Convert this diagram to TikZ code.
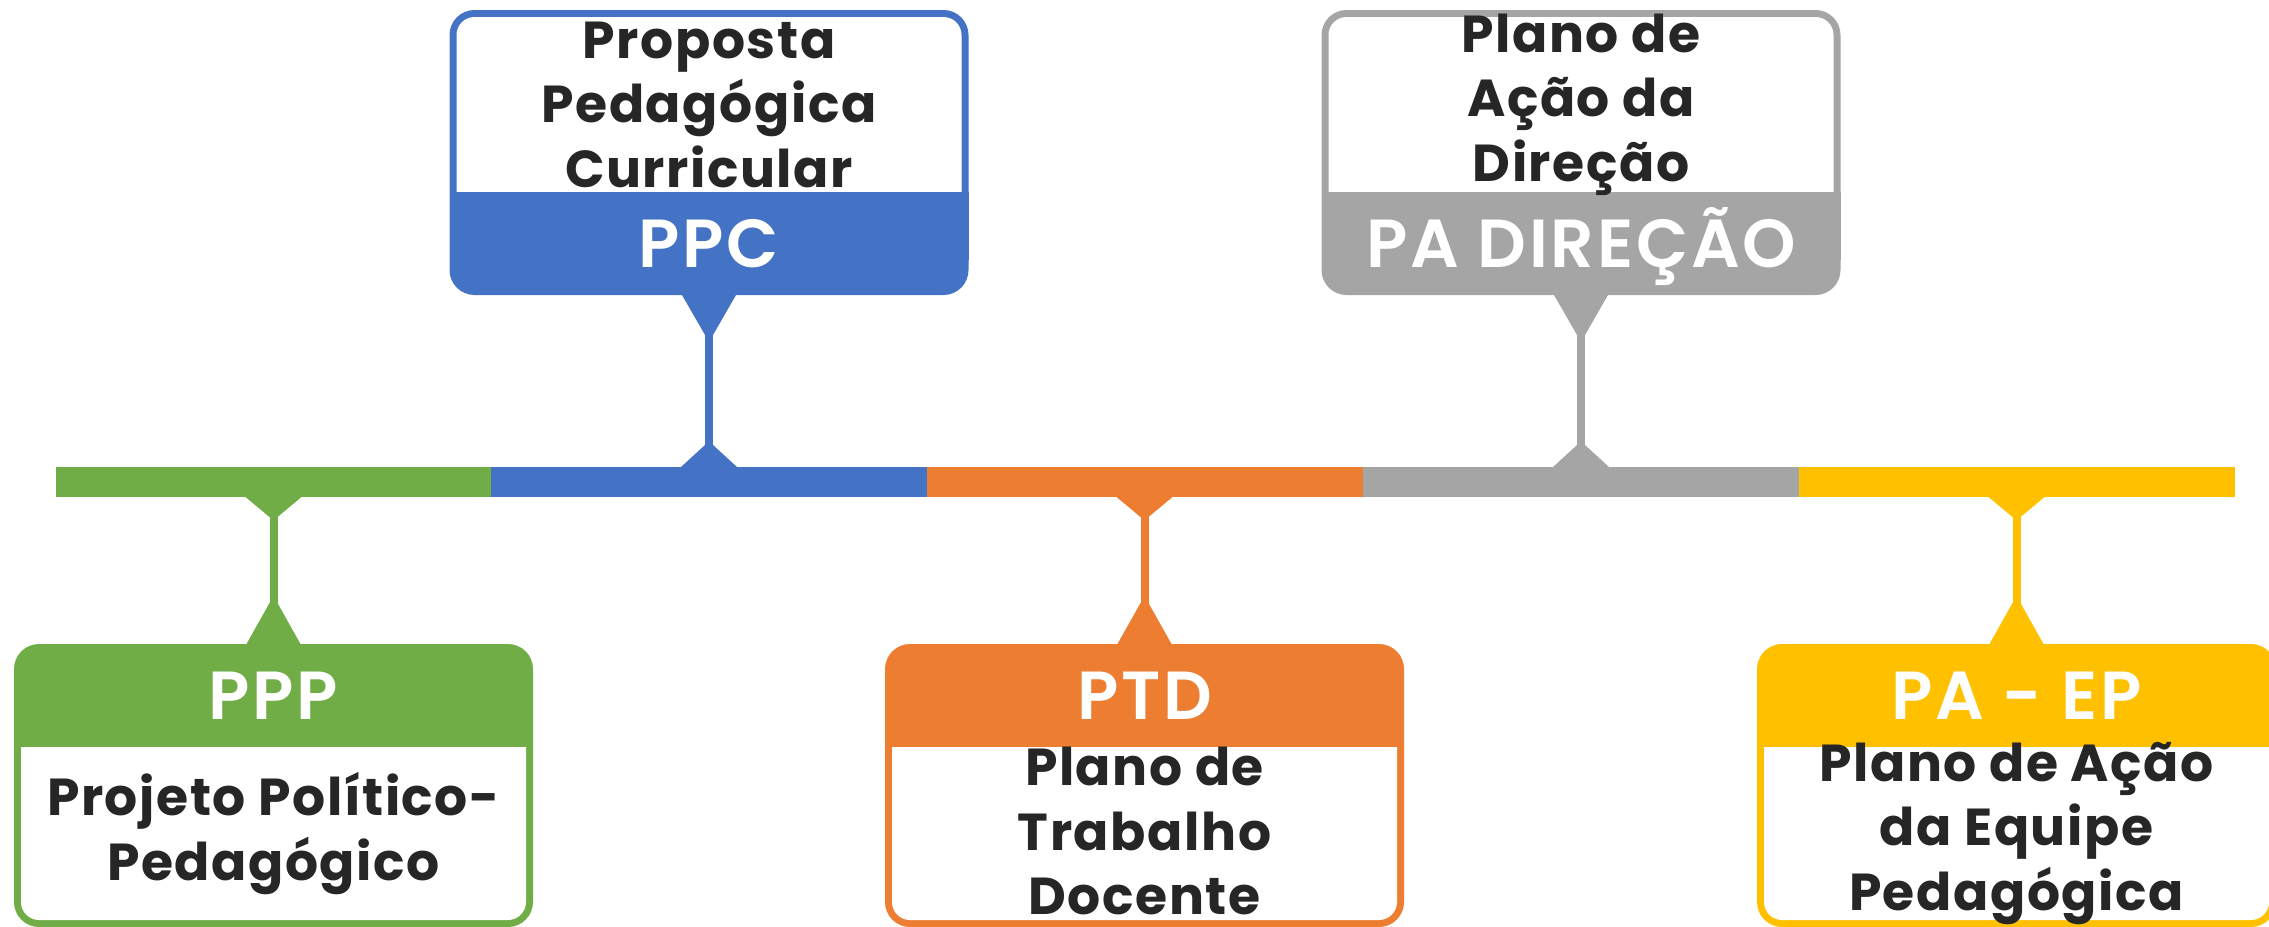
\documentclass[tikz,border=0pt]{standalone}
\usepackage{fontspec}
\setmainfont{Poppins}[LetterSpace=3]
\newfontfamily\hdrfont{Poppins SemiBold}[LetterSpace=4]
\usetikzlibrary{calc}
\definecolor{cgreen}{HTML}{70AD47}
\definecolor{cblue}{HTML}{4472C4}
\definecolor{corange}{HTML}{ED7D31}
\definecolor{cgray}{HTML}{A5A5A5}
\definecolor{cyellow}{HTML}{FFC000}
\definecolor{ctext}{HTML}{262626}
\begin{document}
\begin{tikzpicture}[x=1pt,y=-1pt,
  seg/.style={fill=#1, draw=none, inner sep=0, outer sep=0, minimum width=436, minimum height=30},
  boxframe/.style={fill=#1, draw=none, inner sep=0, outer sep=0, minimum width=519, minimum height=285, rounded corners=25},
  bodytext/.style={font=\bfseries\fontsize{52}{64.5}\selectfont, text=ctext, align=center, inner sep=0},
  hdrtext/.style={font=\hdrfont\fontsize{68}{72}\selectfont, text=white, inner sep=0, text height=47, text depth=0},
  stem/.style={draw=#1, line width=8},
]
\useasboundingbox (0,0) rectangle (2269,926);

% timeline segments
\node[seg=cgreen]  (s1) at (273.5,482) {};
\node[seg=cblue]   (s2) at (709,482) {};
\node[seg=corange] (s3) at (1144.5,482) {};
\node[seg=cgray]   (s4) at (1581,482) {};
\node[seg=cyellow] (s5) at (2016.5,482) {};

% ---------- top boxes ----------
% PPC
\node[boxframe=cblue] (ppc) at (709,152.5) {};
\fill[white, rounded corners=18] ($(ppc.north west)+(7,7)$) rectangle ($(ppc.north east)+(-7,220)$);
\fill[cblue] ($(ppc.north west)+(0,182)$) rectangle ($(ppc.north east)+(0,250)$);
\node[hdrtext] (ppch) at ($(ppc.south)+(0,-51.5)$) {PPC};
\node[bodytext] (ppct) at ($(ppc.north)+(0,94.5)$) {Proposta\\Pedagógica\\Curricular};
\draw[stem=cblue] (ppc.south) -- (s2.north);
\fill[cblue] ($(ppc.south)+(-27,0)$) -- ++(54,0) -- ++(-23,40) -- ++(-8,0) -- cycle;
\fill[cblue] ($(s2.north)+(-28,0)$) -- ++(56,0) -- ++(-24,-22) -- ++(-8,0) -- cycle;

% PA DIRECAO
\node[boxframe=cgray] (pad) at (1581,152.5) {};
\fill[white, rounded corners=18] ($(pad.north west)+(7,7)$) rectangle ($(pad.north east)+(-7,220)$);
\fill[cgray] ($(pad.north west)+(0,182)$) rectangle ($(pad.north east)+(0,250)$);
\node[hdrtext] (padh) at ($(pad.south)+(0,-51.5)$) {PA DIREÇÃO};
\node[bodytext] (padt) at ($(pad.north)+(0,94.5)$) {Plano de\\Ação da\\Direção};
\draw[stem=cgray] (pad.south) -- (s4.north);
\fill[cgray] ($(pad.south)+(-27,0)$) -- ++(54,0) -- ++(-23,40) -- ++(-8,0) -- cycle;
\fill[cgray] ($(s4.north)+(-28,0)$) -- ++(56,0) -- ++(-24,-22) -- ++(-8,0) -- cycle;

% ---------- bottom boxes ----------
% PPP
\node[boxframe=cgreen, minimum height=283] (ppp) at (273.5,785.5) {};
\fill[white, rounded corners=18] ($(ppp.north west)+(7,60)$) rectangle ($(ppp.south east)+(-7,-7)$);
\fill[cgreen] ($(ppp.north west)+(0,40)$) rectangle ($(ppp.north east)+(0,103)$);
\node[hdrtext] (ppph) at ($(ppp.north)+(0,51.5)$) {PPP};
\node[bodytext] (pppt) at ($(ppp.north)+(0,189.5)$) {Projeto Político-\\Pedagógico};
\draw[stem=cgreen] (s1.south) -- (ppp.north);
\fill[cgreen] ($(s1.south)+(-28,0)$) -- ++(56,0) -- ++(-24,20) -- ++(-8,0) -- cycle;
\fill[cgreen] ($(ppp.north)+(-27,0)$) -- ++(54,0) -- ++(-23,-41) -- ++(-8,0) -- cycle;

% PTD
\node[boxframe=corange, minimum height=283] (ptd) at (1144.5,785.5) {};
\fill[white, rounded corners=18] ($(ptd.north west)+(7,60)$) rectangle ($(ptd.south east)+(-7,-7)$);
\fill[corange] ($(ptd.north west)+(0,40)$) rectangle ($(ptd.north east)+(0,103)$);
\node[hdrtext] (ptdh) at ($(ptd.north)+(0,51.5)$) {PTD};
\node[bodytext] (ptdt) at ($(ptd.north)+(0,187)$) {Plano de\\Trabalho\\Docente};
\draw[stem=corange] (s3.south) -- (ptd.north);
\fill[corange] ($(s3.south)+(-28,0)$) -- ++(56,0) -- ++(-24,20) -- ++(-8,0) -- cycle;
\fill[corange] ($(ptd.north)+(-27,0)$) -- ++(54,0) -- ++(-23,-41) -- ++(-8,0) -- cycle;

% PA - EP
\node[boxframe=cyellow, minimum height=283] (pae) at (2016.5,785.5) {};
\fill[white, rounded corners=18] ($(pae.north west)+(7,60)$) rectangle ($(pae.south east)+(-7,-7)$);
\fill[cyellow] ($(pae.north west)+(0,40)$) rectangle ($(pae.north east)+(0,103)$);
\node[hdrtext] (paeh) at ($(pae.north)+(0,51.5)$) {PA - EP};
\node[bodytext] (paet) at ($(pae.north)+(0,189.5)$) {Plano de Ação\\da Equipe\\Pedagógica};
\draw[stem=cyellow] (s5.south) -- (pae.north);
\fill[cyellow] ($(s5.south)+(-28,0)$) -- ++(56,0) -- ++(-24,20) -- ++(-8,0) -- cycle;
\fill[cyellow] ($(pae.north)+(-27,0)$) -- ++(54,0) -- ++(-23,-41) -- ++(-8,0) -- cycle;
\end{tikzpicture}
\end{document}
